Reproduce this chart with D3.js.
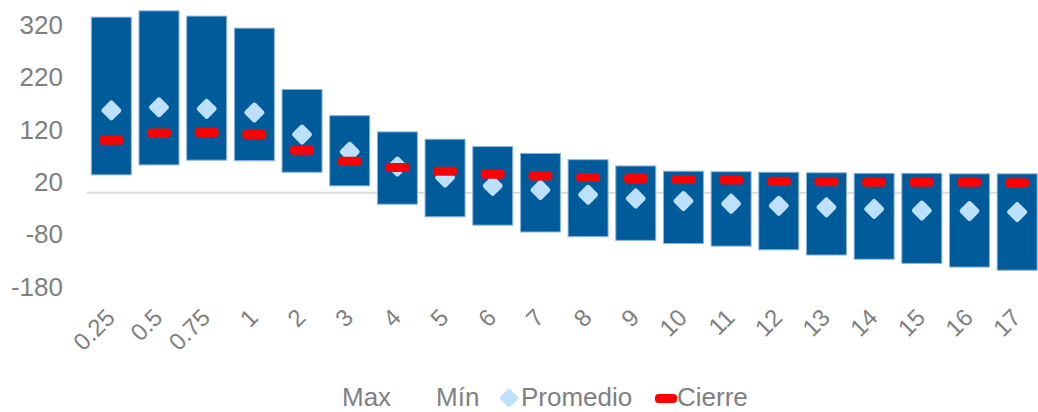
<!DOCTYPE html>
<html>
<head>
<meta charset="utf-8">
<script src="https://cdn.jsdelivr.net/npm/d3@7"></script>
<style>
  html, body { margin: 0; padding: 0; background: #fff; }
  svg { display: block; }
  text { font-family: "Liberation Sans", Arial, sans-serif; fill: #808080; }
</style>
</head>
<body>
<svg id="chart" width="1038" height="412"></svg>
<script>
const categories = ["0.25","0.5","0.75","1","2","3","4","5","6","7","8","9","10","11","12","13","14","15","16","17"];
const maxVals  = [335, 347, 337, 314, 197, 147, 116, 102, 88, 75, 63, 51, 41, 40, 39, 38, 37, 37, 36, 36];
const minVals  = [34, 53, 62, 61, 39, 13, -22, -46, -62, -75, -84, -91, -97, -102, -109, -119, -127, -135, -142, -148];
const promedio = [157, 163, 160, 153, 111, 78, 50, 29, 13, 5, -4, -11, -16, -21, -25, -28, -31, -34, -35, -37];
const cierre   = [100, 114, 115, 111, 81, 60, 48, 41, 35, 32, 29, 27, 25, 24, 22, 21, 20, 20, 20, 19];
const yTicks   = [-180, -80, 20, 120, 220, 320];
const legendItems = ["Max", "Mín", "Promedio", "Cierre"];

const svg = d3.select("#chart");

const x = d3.scaleBand().domain(categories).range([87.5, 1041]).paddingInner(0.16).paddingOuter(0.08);
const y = d3.scaleLinear().domain([-180, 320]).range([287, 25]);

// zero line
svg.append("line")
  .attr("x1", 87).attr("x2", 1038)
  .attr("y1", y(0)).attr("y2", y(0))
  .attr("stroke", "#d9d9d9").attr("stroke-width", 2);

// y axis labels
const yAxis = d3.axisLeft(y).tickValues(yTicks).tickSize(0).tickPadding(0).tickFormat(d => String(d));
const gy = svg.append("g").attr("transform", "translate(63,0)").call(yAxis);
gy.select(".domain").remove();
gy.selectAll("text").style("font-size", "26px").attr("fill", "#808080")
  .style("font-family", "'Liberation Sans', Arial, sans-serif");

// bars
const bw = 40;
svg.append("g").selectAll("rect").data(categories).join("rect")
  .attr("x", d => x(d) + x.bandwidth()/2 - bw/2)
  .attr("width", bw)
  .attr("y", (d, i) => y(maxVals[i]))
  .attr("height", (d, i) => y(minVals[i]) - y(maxVals[i]))
  .attr("fill", "#005b9b")
  .attr("stroke", "#8db5dc").attr("stroke-width", 1);

// diamonds
const ds = 15.5;
svg.append("g").selectAll("rect").data(categories).join("rect")
  .attr("x", -ds/2).attr("y", -ds/2).attr("width", ds).attr("height", ds)
  .attr("rx", 2.5).attr("ry", 2.5)
  .attr("transform", (d, i) => `translate(${x(d) + x.bandwidth()/2},${y(promedio[i])}) rotate(45)`)
  .attr("fill", "#bde0fd");

// cierre dashes
svg.append("g").selectAll("rect").data(categories).join("rect")
  .attr("x", d => x(d) + x.bandwidth()/2 - 12)
  .attr("y", (d, i) => y(cierre[i]) - 4.5)
  .attr("width", 24).attr("height", 9)
  .attr("rx", 3.5).attr("ry", 3.5)
  .attr("fill", "#ff0000");

// x axis labels
const xAxis = d3.axisBottom(x).tickSize(0).tickPadding(0);
const gx = svg.append("g").attr("transform", "translate(0,0)").call(xAxis);
gx.select(".domain").remove();
gx.selectAll(".tick text")
  .attr("y", 0).attr("dy", 0)
  .attr("transform", "translate(5,319) rotate(-45)")
  .style("text-anchor", "end")
  .style("font-size", "24px")
  .style("font-family", "'Liberation Sans', Arial, sans-serif")
  .attr("fill", "#808080");

// legend
const lg = svg.append("g");
const baseY = 406;
const lfs = "26px";
lg.append("text").attr("x", 342).attr("y", baseY).text(legendItems[0]).style("font-size", lfs);
lg.append("text").attr("x", 436).attr("y", baseY).text(legendItems[1]).style("font-size", lfs);
lg.append("rect").attr("x", -7).attr("y", -7).attr("width", 14).attr("height", 14).attr("rx", 2)
  .attr("transform", `translate(509,398) rotate(45)`).attr("fill", "#bde0fd");
lg.append("text").attr("x", 521).attr("y", baseY).text(legendItems[2]).style("font-size", lfs);
lg.append("rect").attr("x", 655).attr("y", 394).attr("width", 22).attr("height", 9).attr("rx", 3.5).attr("fill", "#ff0000");
lg.append("text").attr("x", 677).attr("y", baseY).text(legendItems[3]).style("font-size", lfs);
</script>
</body>
</html>
